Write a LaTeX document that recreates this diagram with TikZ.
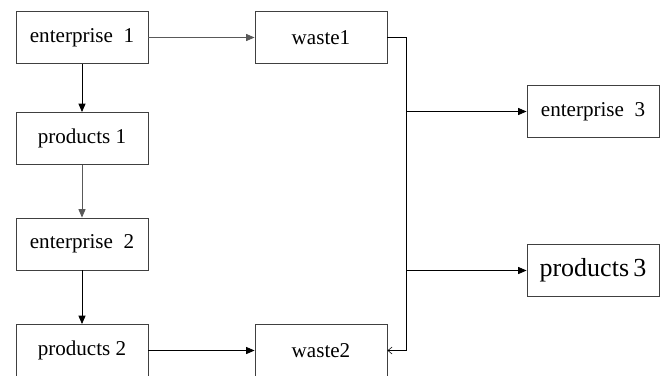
\documentclass[tikz,border=0pt]{standalone}
\usepackage{fontspec}
\setmainfont{Liberation Serif}
\usetikzlibrary{arrows.meta}

\tikzset{
  box/.style={draw=black!75, line width=0.6pt, minimum width=3.3cm,
    minimum height=1.3cm, inner sep=0pt, font=\fontsize{15}{17}\selectfont},
  flow/.style={line width=0.6pt, -{Triangle[length=6pt,width=5pt]}},
  thinflow/.style={flow, draw=black!65},
}

\begin{document}
\begin{tikzpicture}[x=0.025cm, y=-0.025cm]
  \useasboundingbox (0,0) rectangle (668,375);

  % left column
  \node[box] (ent1) at (82,37.5) {enterprise\ \ 1};
  \node[box] (prod1) at (82,138.5) {products\ 1};
  \node[box] (ent2) at (82,244) {enterprise\ \ 2};
  \node[box] (prod2) at (82,350.5) {products\ 2};

  % waste
  \node[box] (waste1) at (321,37.5) {waste1};
  \node[box] (waste2) at (321,350.5) {waste2};

  % right column
  \node[box] (ent3) at (593,111.5) {enterprise\ \ 3};
  \node[box, font=\fontsize{18.5}{20}\selectfont] (prod3) at (593,270.5) {products\,3};

  \coordinate (bus) at (406,0);

  \draw[thinflow] (ent1) -- (waste1);
  \draw[flow] (ent1) -- (prod1);
  \draw[thinflow] (prod1) -- (ent2);
  \draw[flow] (ent2) -- (prod2);
  \draw[flow] (prod2) -- (waste2);

  % waste collector
  \draw[line width=0.6pt, -{Straight Barb[length=3pt,width=5pt,line width=0.4pt]}]
    (waste1.east) -| (bus |- waste2.east) -- (waste2.east);
  \draw[flow] (bus |- ent3.west) -- (ent3.west);
  \draw[flow] (bus |- prod3.west) -- (prod3.west);
\end{tikzpicture}
\end{document}
